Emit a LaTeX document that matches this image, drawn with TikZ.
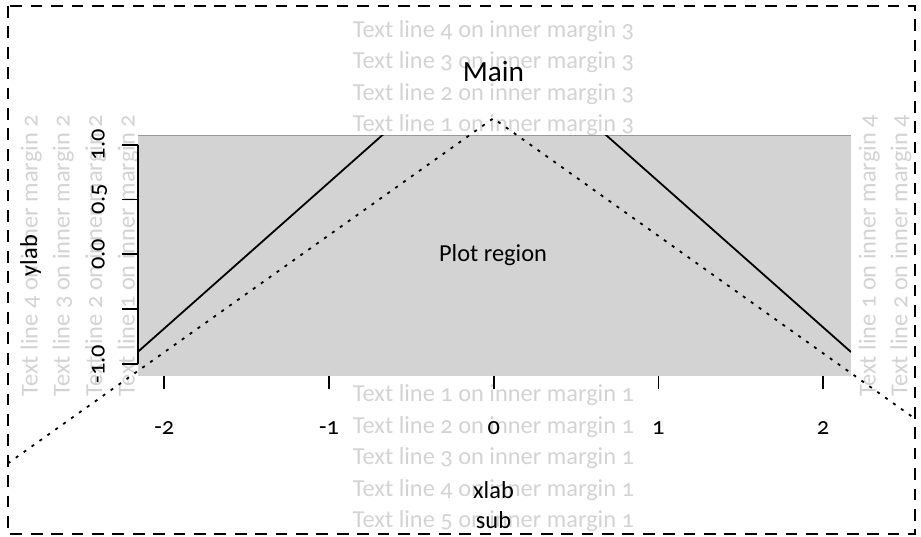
\documentclass[tikz,border=0pt]{standalone}
\usepackage{fontspec}
\setmainfont{Carlito}[Numbers=OldStyle]
\definecolor{lgray}{RGB}{211,211,211}
\begin{document}
\begin{tikzpicture}[x=1pt,y=-1pt,
  mtxt/.style={text=lgray,inner sep=0pt,anchor=base,font=\fontsize{24.4}{29}\selectfont},
  btxt/.style={text=black,inner sep=0pt,anchor=base,font=\fontsize{24.4}{29}\selectfont},
  axisline/.style={line width=1.8pt,black},
  solidline/.style={line width=1.8pt,black},
  dotline/.style={line width=1.8pt,black,dash pattern=on 3pt off 6.7pt},
  border/.style={line width=1.8pt,black,dash pattern=on 11.7pt off 8.7pt}]
\useasboundingbox (0,0) rectangle (921,536);
% inner margin texts
\node[mtxt] (t31) at (493.5,131.7) {Text line 1 on inner margin 3};
\node[mtxt] (t32) at (493.5,100.2) {Text line 2 on inner margin 3};
\node[mtxt] (t33) at (493.5,68.7) {Text line 3 on inner margin 3};
\node[mtxt] (t34) at (493.5,37.2) {Text line 4 on inner margin 3};
\node[mtxt] (t11) at (493.5,401.7) {Text line 1 on inner margin 1};
\node[mtxt] (t12) at (493.5,433.2) {Text line 2 on inner margin 1};
\node[mtxt] (t13) at (493.5,464.7) {Text line 3 on inner margin 1};
\node[mtxt] (t14) at (493.5,496.2) {Text line 4 on inner margin 1};
\node[mtxt] (t15) at (493.5,527.7) {Text line 5 on inner margin 1};
\node[mtxt,rotate=90] (t21) at (134.5,255.7) {Text line 1 on inner margin 2};
\node[mtxt,rotate=90] (t22) at (102,255.7) {Text line 2 on inner margin 2};
\node[mtxt,rotate=90] (t23) at (69.5,255.7) {Text line 3 on inner margin 2};
\node[mtxt,rotate=90] (t24) at (37.5,255.7) {Text line 4 on inner margin 2};
\node[mtxt,rotate=90] (t41) at (875.7,255.7) {Text line 1 on inner margin 4};
\node[mtxt,rotate=90] (t42) at (907.4,255.7) {Text line 2 on inner margin 4};
% plot region
\fill[lgray] (137.7,135.7) rectangle (851,375.7);
\draw[line width=0.6pt,gray!80] (137.7,135.7) -- (851,135.7);
\begin{scope}
  \clip (137.7,135.7) rectangle (851,375.7);
  \draw[solidline] (137.7,352) -- (494.2,36) -- (851,352);
\end{scope}
% y axis
\draw[axisline] (137.7,144.6) -- (137.7,364);
\foreach \yy in {144.6,199.45,254.3,309.15,364}
  \draw[axisline] (137.7,\yy) -- (122,\yy);
\node[btxt,rotate=90] (y1) at (104.5,144.6) {1.0};
\node[btxt,rotate=90] (y2) at (104.5,199.45) {0.5};
\node[btxt,rotate=90] (y3) at (104.5,254.3) {0.0};
\node[btxt,rotate=90] (y5) at (104.5,364) {-1.0};
% x axis
\foreach \xx in {164.3,329,493.7,658.4,823.1}
  \draw[axisline] (\xx,375.7) -- (\xx,389);
\node[btxt] (x1) at (164.3,434) {-2};
\node[btxt] (x2) at (329,434) {-1};
\node[btxt] (x3) at (493.7,434) {0};
\node[btxt] (x4) at (658.4,434) {1};
\node[btxt] (x5) at (823.1,434) {2};
% dotted line
\begin{scope}
  \clip (8,6) rectangle (915,534);
  \draw[dotline] (0,469) -- (493.3,118.3) -- (921,423);
\end{scope}
% labels
\node[btxt,font=\fontsize{29.3}{34}\selectfont] (main) at (493.5,81.7) {Main};
\node[btxt] (plotreg) at (493,261.5) {Plot region};
\node[btxt,rotate=90] (ylab) at (37,255.7) {ylab};
\node[btxt] (xlab) at (493.5,498.3) {xlab};
\node[btxt] (sub) at (493.5,528.3) {sub};
% figure border
\draw[border] (8,6) rectangle (915,534);
\end{tikzpicture}
\end{document}
